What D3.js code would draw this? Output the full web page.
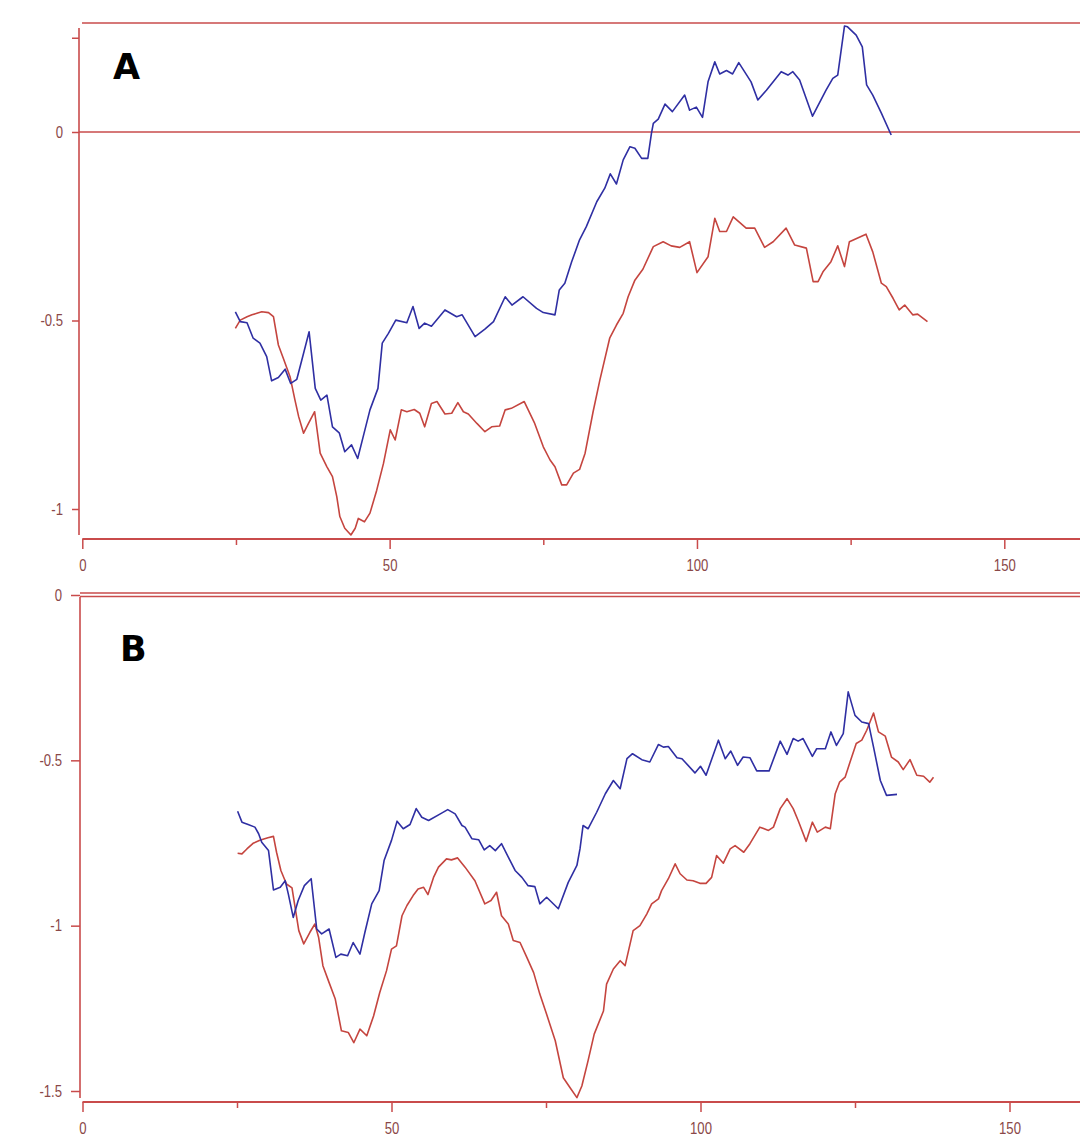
<!DOCTYPE html>
<html><head><meta charset="utf-8">
<script src="https://cdn.jsdelivr.net/npm/d3@7"></script>
<style>
html,body{margin:0;padding:0;background:#fff;}
svg{display:block;}
.tick text{font-family:"Liberation Sans",Arial,sans-serif;font-size:16px;fill:#8a4848;}
</style></head>
<body>
<svg id="chart" width="1080" height="1137"></svg>
<script>
// ---- data ----
const xTicksMajor = [0, 50, 100, 150];
const xTicksMinor = [25, 75, 125];
const aYTicks = [0, -0.5, -1];
const aYTicksExtra = [0.25];
const bYTicks = [0, -0.5, -1, -1.5];

const aBlue = [[24.9,-0.477],[25.7,-0.503],[26.8,-0.506],[27.8,-0.547],[28.9,-0.560],[30.0,-0.596],[30.8,-0.660],[31.9,-0.651],[33.0,-0.629],[33.9,-0.667],[34.9,-0.656],[36.0,-0.587],[36.9,-0.530],[37.9,-0.680],[38.8,-0.711],[39.8,-0.698],[40.7,-0.782],[41.8,-0.798],[42.7,-0.848],[43.8,-0.830],[44.8,-0.866],[45.7,-0.808],[46.8,-0.737],[48.1,-0.680],[48.8,-0.560],[49.8,-0.534],[51.0,-0.499],[52.8,-0.506],[53.8,-0.463],[54.8,-0.521],[55.7,-0.507],[56.8,-0.515],[59.0,-0.472],[60.9,-0.490],[61.8,-0.485],[63.9,-0.543],[65.5,-0.523],[66.9,-0.503],[68.8,-0.437],[69.9,-0.459],[71.7,-0.437],[73.9,-0.468],[75.0,-0.479],[76.9,-0.485],[77.6,-0.419],[78.5,-0.401],[79.6,-0.345],[80.9,-0.286],[82.0,-0.251],[83.7,-0.185],[85.0,-0.149],[85.9,-0.111],[86.9,-0.138],[88.0,-0.074],[89.1,-0.039],[89.9,-0.043],[91.0,-0.070],[92.0,-0.070],[92.6,-0.003],[92.9,0.023],[93.7,0.034],[94.8,0.074],[96.0,0.054],[98.0,0.098],[98.8,0.058],[99.9,0.066],[100.9,0.039],[101.8,0.133],[102.9,0.186],[103.7,0.154],[104.8,0.163],[105.8,0.154],[106.8,0.184],[108.8,0.133],[109.9,0.085],[111.3,0.111],[113.7,0.160],[114.8,0.151],[115.6,0.160],[116.7,0.138],[118.8,0.042],[121.0,0.111],[122.1,0.142],[122.9,0.151],[124.0,0.281],[124.5,0.279],[125.9,0.257],[126.9,0.226],[127.6,0.125],[128.6,0.098],[130.0,0.050],[131.6,-0.008]];

const aRed = [[24.9,-0.521],[25.7,-0.499],[26.8,-0.490],[27.6,-0.485],[28.4,-0.481],[29.2,-0.477],[30.3,-0.479],[31.1,-0.490],[31.9,-0.565],[32.7,-0.600],[33.8,-0.649],[34.6,-0.711],[35.2,-0.755],[36.0,-0.799],[36.8,-0.773],[37.8,-0.742],[38.7,-0.852],[39.8,-0.888],[40.7,-0.914],[41.4,-0.967],[41.9,-1.020],[42.7,-1.051],[43.7,-1.069],[44.4,-1.051],[44.9,-1.025],[45.9,-1.034],[46.8,-1.011],[47.9,-0.950],[49.0,-0.879],[50.1,-0.790],[50.9,-0.817],[51.9,-0.737],[52.8,-0.742],[54.0,-0.736],[54.9,-0.746],[55.7,-0.782],[56.8,-0.720],[57.7,-0.715],[59.0,-0.748],[60.1,-0.746],[61.1,-0.718],[62.0,-0.742],[62.8,-0.748],[64.2,-0.773],[65.5,-0.795],[66.6,-0.782],[67.9,-0.780],[68.8,-0.737],[69.8,-0.733],[71.9,-0.715],[73.6,-0.773],[75.0,-0.835],[76.1,-0.870],[76.9,-0.888],[78.0,-0.936],[78.8,-0.936],[79.9,-0.905],[80.9,-0.895],[81.8,-0.852],[83.1,-0.742],[84.2,-0.658],[85.8,-0.547],[86.9,-0.512],[88.0,-0.481],[88.8,-0.437],[89.9,-0.393],[91.2,-0.364],[92.9,-0.304],[94.5,-0.291],[95.8,-0.302],[97.2,-0.306],[98.8,-0.291],[100.0,-0.373],[101.8,-0.331],[102.9,-0.229],[103.7,-0.264],[104.8,-0.264],[105.9,-0.225],[108.0,-0.255],[109.4,-0.255],[111.0,-0.306],[112.4,-0.291],[114.5,-0.255],[115.9,-0.300],[117.8,-0.308],[118.9,-0.397],[119.7,-0.397],[120.5,-0.371],[121.8,-0.344],[122.9,-0.302],[124.0,-0.357],[124.8,-0.291],[127.5,-0.271],[128.6,-0.318],[130.0,-0.401],[130.8,-0.410],[131.9,-0.441],[132.9,-0.472],[133.8,-0.459],[135.1,-0.485],[135.9,-0.483],[137.5,-0.503]];

const bBlue = [[25.1,-0.654],[25.8,-0.687],[26.8,-0.694],[27.9,-0.702],[28.5,-0.722],[29.0,-0.748],[30.1,-0.773],[30.9,-0.892],[32.0,-0.884],[32.8,-0.864],[33.3,-0.904],[34.1,-0.975],[34.9,-0.924],[35.9,-0.879],[37.0,-0.858],[37.9,-1.010],[38.7,-1.025],[39.9,-1.010],[41.0,-1.096],[41.8,-1.086],[42.9,-1.091],[43.8,-1.051],[44.9,-1.086],[45.7,-1.020],[46.8,-0.934],[48.0,-0.894],[48.8,-0.803],[50.0,-0.742],[50.9,-0.684],[51.9,-0.707],[53.0,-0.694],[54.0,-0.646],[54.9,-0.672],[56.0,-0.682],[57.9,-0.662],[59.1,-0.649],[60.3,-0.662],[61.4,-0.697],[61.9,-0.702],[63.0,-0.737],[64.1,-0.740],[65.0,-0.771],[65.9,-0.758],[66.8,-0.773],[67.8,-0.752],[70.0,-0.833],[71.1,-0.854],[72.1,-0.879],[73.2,-0.882],[74.0,-0.934],[75.1,-0.914],[77.0,-0.949],[78.6,-0.869],[80.0,-0.818],[80.5,-0.768],[81.0,-0.697],[81.8,-0.707],[83.2,-0.657],[84.6,-0.601],[85.9,-0.561],[87.0,-0.586],[88.1,-0.495],[89.0,-0.480],[90.5,-0.498],[91.8,-0.505],[93.2,-0.452],[94.0,-0.460],[94.8,-0.458],[96.2,-0.492],[97.0,-0.495],[99.1,-0.538],[100.0,-0.518],[100.9,-0.545],[102.9,-0.439],[104.0,-0.495],[104.9,-0.472],[106.0,-0.515],[106.9,-0.490],[108.0,-0.492],[109.1,-0.532],[111.1,-0.532],[112.9,-0.442],[114.0,-0.482],[115.0,-0.434],[115.8,-0.442],[116.6,-0.434],[118.1,-0.488],[118.8,-0.465],[120.2,-0.465],[121.1,-0.414],[122.0,-0.455],[123.1,-0.419],[123.9,-0.293],[125.0,-0.364],[126.1,-0.384],[127.2,-0.389],[128.0,-0.460],[129.1,-0.561],[130.1,-0.606],[131.8,-0.603]];

const bRed = [[25.1,-0.781],[25.8,-0.783],[26.6,-0.768],[27.6,-0.751],[28.7,-0.742],[30.0,-0.734],[30.9,-0.730],[31.4,-0.778],[32.1,-0.833],[33.0,-0.874],[33.9,-0.886],[34.4,-0.945],[35.0,-1.015],[35.8,-1.055],[36.8,-1.020],[37.6,-0.995],[38.2,-1.035],[38.9,-1.121],[39.8,-1.167],[40.9,-1.222],[41.9,-1.318],[43.0,-1.323],[43.9,-1.354],[44.9,-1.313],[46.0,-1.333],[47.1,-1.273],[48.1,-1.202],[49.2,-1.136],[50.0,-1.071],[50.8,-1.061],[51.7,-0.970],[52.5,-0.939],[53.5,-0.909],[54.3,-0.889],[55.2,-0.884],[55.9,-0.906],[56.8,-0.854],[57.6,-0.823],[58.9,-0.798],[59.7,-0.801],[60.7,-0.795],[61.9,-0.823],[63.5,-0.864],[65.1,-0.934],[66.1,-0.924],[67.0,-0.899],[67.8,-0.970],[68.9,-0.995],[69.7,-1.045],[70.8,-1.051],[71.9,-1.096],[73.0,-1.142],[74.0,-1.207],[75.1,-1.268],[76.5,-1.348],[77.8,-1.460],[78.9,-1.490],[80.0,-1.520],[80.8,-1.485],[81.8,-1.409],[82.8,-1.328],[84.3,-1.258],[84.8,-1.177],[85.9,-1.131],[87.0,-1.106],[87.8,-1.121],[89.1,-1.015],[90.2,-1.000],[91.3,-0.965],[92.1,-0.934],[93.2,-0.919],[93.7,-0.894],[94.8,-0.858],[95.9,-0.813],[96.7,-0.843],[97.8,-0.862],[98.8,-0.864],[99.9,-0.872],[100.9,-0.872],[101.8,-0.854],[102.6,-0.788],[103.7,-0.811],[104.8,-0.768],[105.6,-0.758],[107.0,-0.778],[108.0,-0.752],[109.6,-0.702],[111.0,-0.712],[111.8,-0.702],[112.9,-0.646],[114.0,-0.616],[115.0,-0.646],[115.8,-0.682],[117.1,-0.745],[118.1,-0.687],[118.9,-0.717],[120.2,-0.702],[121.0,-0.707],[121.8,-0.601],[122.5,-0.566],[123.4,-0.551],[124.2,-0.505],[125.2,-0.449],[126.1,-0.439],[126.9,-0.409],[128.0,-0.357],[128.8,-0.414],[129.9,-0.427],[130.9,-0.490],[132.0,-0.505],[132.8,-0.528],[133.9,-0.498],[135.0,-0.545],[136.1,-0.548],[137.1,-0.566],[137.7,-0.551]];

// ---- drawing ----
const svg = d3.select("#chart");
const W = 1080;
const frame = "#c94b4b";
const blue = "#2f2fa3";
const red = "#c5453f";
const squeeze = 0.82;

function panel(cfg) {
  const x = d3.scaleLinear().domain([0, 150]).range(cfg.xRange);
  const y = d3.scaleLinear().domain(cfg.yDomain).range(cfg.yRange);
  const g = svg.append("g");

  // y axis ticks
  const ySpacing = cfg.yTickSize + 9;
  const ya = g.append("g").attr("transform", `translate(${cfg.yAxisX},0)`)
    .call(d3.axisLeft(y).tickValues(cfg.yTicks).tickSize(cfg.yTickSize).tickPadding(9)
      .tickFormat(d => d === 0 ? "0" : String(d)));
  ya.select(".domain").remove();
  ya.selectAll(".tick line").attr("stroke", frame).attr("stroke-width", 1.5);
  ya.selectAll(".tick text").attr("x", 0)
    .attr("transform", `translate(${-ySpacing},0) scale(${squeeze},1)`);
  if (cfg.yTicksExtra) {
    const ye = g.append("g").attr("transform", `translate(${cfg.yAxisX},0)`)
      .call(d3.axisLeft(y).tickValues(cfg.yTicksExtra).tickSize(cfg.yTickSize).tickFormat(""));
    ye.select(".domain").remove();
    ye.selectAll(".tick line").attr("stroke", frame).attr("stroke-width", 1.5);
  }
  // y axis line
  g.append("line").attr("x1", cfg.yAxisX).attr("x2", cfg.yAxisX)
    .attr("y1", cfg.yAxisTop).attr("y2", cfg.yAxisBottom)
    .attr("stroke", frame).attr("stroke-width", 1.6);

  // x axis
  const xa = g.append("g").attr("transform", `translate(0,${cfg.xAxisY})`)
    .call(d3.axisBottom(x).tickValues(xTicksMajor).tickSize(10).tickPadding(11));
  xa.select(".domain").remove();
  xa.selectAll(".tick line").attr("stroke", frame).attr("stroke-width", 1.5);
  xa.selectAll(".tick text").attr("transform", `scale(${squeeze},1)`);
  const xm = g.append("g").attr("transform", `translate(0,${cfg.xAxisY})`)
    .call(d3.axisBottom(x).tickValues(xTicksMinor).tickSize(6).tickFormat(""));
  xm.select(".domain").remove();
  xm.selectAll(".tick line").attr("stroke", frame).attr("stroke-width", 1.5);
  g.append("line").attr("x1", x(0)).attr("x2", W)
    .attr("y1", cfg.xAxisY).attr("y2", cfg.xAxisY)
    .attr("stroke", frame).attr("stroke-width", 1.8);

  // frame lines
  cfg.hLines.forEach(h => {
    g.append("line").attr("x1", h.x1).attr("x2", W)
      .attr("y1", h.y).attr("y2", h.y)
      .attr("stroke", frame).attr("stroke-width", h.w || 1.6);
  });

  const line = d3.line().x(d => x(d[0])).y(d => y(d[1]));
  g.append("path").datum(cfg.red).attr("d", line)
    .attr("fill", "none").attr("stroke", red).attr("stroke-width", 1.6).attr("stroke-linejoin", "round");
  g.append("path").datum(cfg.blue).attr("d", line)
    .attr("fill", "none").attr("stroke", blue).attr("stroke-width", 1.6).attr("stroke-linejoin", "round");

  g.append("text").attr("x", cfg.label[0]).attr("y", cfg.label[1])
    .attr("font-family", "'DejaVu Sans', Verdana, sans-serif").attr("font-weight", "bold")
    .attr("font-size", 35).attr("fill", "#000").text(cfg.label[2]);
}

panel({
  xRange: [82.3, 1004.3], yDomain: [-1, 0], yRange: [509, 132],
  yTicks: aYTicks, yTicksExtra: aYTicksExtra, yTickSize: 7,
  yAxisX: 79, yAxisTop: 28, yAxisBottom: 535, xAxisY: 539,
  hLines: [{x1: 82, y: 23}, {x1: 79, y: 132}],
  blue: aBlue, red: aRed, label: [113, 79, "A"]
});

panel({
  xRange: [82.5, 1009.5], yDomain: [-1.5, 0], yRange: [1091, 595],
  yTicks: bYTicks, yTickSize: 9,
  yAxisX: 80, yAxisTop: 597, yAxisBottom: 1098, xAxisY: 1102,
  hLines: [{x1: 80, y: 593, w: 1.6}, {x1: 80, y: 596.5, w: 1.6}],
  blue: bBlue, red: bRed, label: [120, 661, "B"]
});
</script>
</body></html>
